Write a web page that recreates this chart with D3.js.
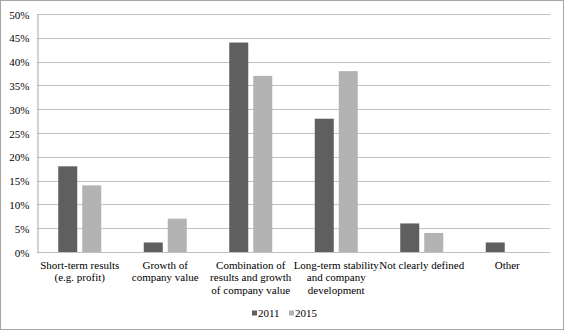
<!DOCTYPE html>
<html>
<head>
<meta charset="utf-8">
<script src="https://cdn.jsdelivr.net/npm/d3@7"></script>
<style>
  html, body { margin: 0; padding: 0; background: #fff; }
  svg { display: block; }
</style>
</head>
<body>
<script>
// Objectives categories (multi-line labels)
const categories = [
  ["Short-term results", "(e.g. profit)"],
  ["Growth of", "company value"],
  ["Combination of", "results and growth", "of company value"],
  ["Long-term stability", "and company", "development"],
  ["Not clearly defined"],
  ["Other"]
];
const years = ["2011", "2015"];
const values2011 = [18, 2, 44, 28, 6, 2];
const values2015 = [14, 7, 37, 38, 4, 0];
const yTicks = [0, 5, 10, 15, 20, 25, 30, 35, 40, 45, 50];
const colors = ["#5f5f5f", "#b3b3b3"];

const FONT = "'Liberation Serif', 'Times New Roman', serif";
const FS = 11;
const W = 565, H = 331;
const margin = { left: 37, right: 15, top: 14, bottom: 79 };

const svg = d3.select("body").append("svg").attr("width", W).attr("height", H)
  .attr("font-family", FONT);

// outer frame
svg.append("rect").attr("x", 0.5).attr("y", 0.5).attr("width", W - 2).attr("height", H - 2)
  .attr("fill", "#fff").attr("stroke", "#a6a6a6").attr("stroke-width", 1);

const x0 = d3.scaleBand().domain(d3.range(categories.length))
  .range([margin.left, W - margin.right]);
const y = d3.scaleLinear().domain([0, 50]).range([H - margin.bottom, margin.top]);

// gridlines
svg.append("g").selectAll("line").data(yTicks).join("line")
  .attr("x1", margin.left).attr("x2", W - margin.right)
  .attr("y1", d => Math.round(y(d)) + 0.5).attr("y2", d => Math.round(y(d)) + 0.5)
  .attr("stroke", "#c0c0c0").attr("stroke-width", 1);

// y axis
const yAxis = d3.axisLeft(y).tickValues(yTicks).tickFormat(d => d + "%").tickSize(0).tickPadding(8);
const gy = svg.append("g").attr("transform", `translate(${margin.left + 0.5},0.5)`).call(yAxis)
  .attr("font-family", FONT).attr("font-size", FS);
gy.select(".domain").attr("stroke", "#a6a6a6");
gy.selectAll("text").attr("fill", "#000");

// bars
const bw = 19, gap = 5;
const series = [values2011, values2015];
series.forEach((vals, si) => {
  svg.append("g").selectAll("rect").data(vals).join("rect")
    .attr("x", (d, i) => x0(i) + x0.bandwidth() / 2 - bw - gap / 2 + si * (bw + gap))
    .attr("width", bw)
    .attr("y", d => y(d))
    .attr("height", d => y(0) - y(d))
    .attr("fill", colors[si]);
});

// category labels
const cg = svg.append("g").attr("font-size", FS);
categories.forEach((lines, i) => {
  const cx = x0(i) + x0.bandwidth() / 2;
  const t = cg.append("text").attr("text-anchor", "middle").attr("x", cx).attr("y", 268.5);
  lines.forEach((l, j) => {
    t.append("tspan").attr("x", cx).attr("dy", j === 0 ? 0 : 12.5).text(l);
  });
});

// legend
const lg = svg.append("g").attr("transform", "translate(252,313)").attr("font-size", FS);
years.forEach((yr, i) => {
  const g = lg.append("g").attr("transform", `translate(${i * 37},0)`);
  g.append("rect").attr("x", 0).attr("y", -2.5).attr("width", 5).attr("height", 5).attr("fill", colors[i]);
  g.append("text").attr("x", 6).attr("y", 0).attr("dy", "0.35em").text(yr);
});
</script>
</body>
</html>
